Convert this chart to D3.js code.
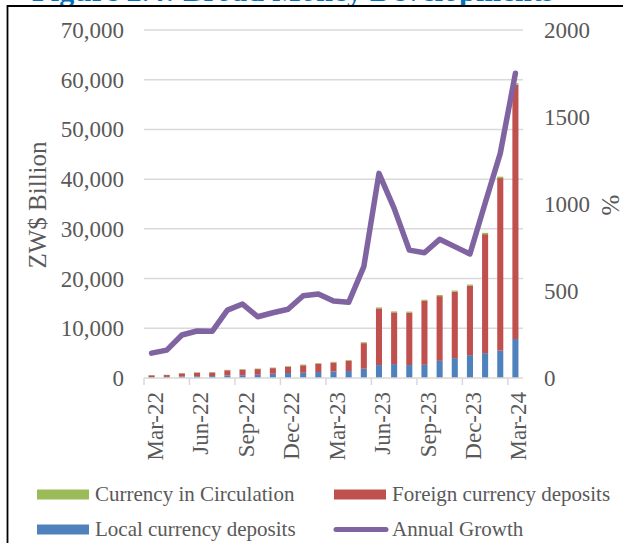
<!DOCTYPE html>
<html lang="en">
<head>
<meta charset="utf-8">
<script src="https://d3js.org/d3.v7.min.js"></script>
<style>
  body { margin: 0; background: #fff; }
  text { font-family: "Liberation Serif", "Times New Roman", serif; fill: #595959; }
</style>
</head>
<body>
<script>
var months = ["Mar-22","Apr-22","May-22","Jun-22","Jul-22","Aug-22","Sep-22","Oct-22","Nov-22","Dec-22",
  "Jan-23","Feb-23","Mar-23","Apr-23","May-23","Jun-23","Jul-23","Aug-23","Sep-23","Oct-23","Nov-23","Dec-23",
  "Jan-24","Feb-24","Mar-24"];
var localDeposits = [200,220,300,350,380,500,560,650,850,1000,1050,1200,1300,1400,1870,2600,2800,2600,2650,3450,4000,4600,5000,5500,7850];
var foreignDeposits = [340,370,630,720,730,1050,1130,1140,1130,1260,1510,1650,1790,2030,5140,11400,10400,10540,12880,13020,13360,13940,23930,34710,51130];
var currency = [60,60,70,80,90,100,110,110,120,140,140,150,160,170,190,200,200,210,220,230,240,260,270,290,320];
var growth = [143,160,247,270,268,390,425,352,375,395,473,483,442,435,640,1176,975,735,720,797,755,713,1004,1291,1751];
var leftTicks = [0,10000,20000,30000,40000,50000,60000,70000];
var rightTicks = [0,500,1000,1500,2000];
var labelMonths = ["Mar-22","Jun-22","Sep-22","Dec-22","Mar-23","Jun-23","Sep-23","Dec-23","Mar-24"];

var W = 623, H = 543;
var svg = d3.select("body").append("svg").attr("width", W).attr("height", H);

// title, cut off at the top edge as in the source
svg.append("text").attr("x", 32).attr("y", 0.5)
  .attr("font-size", 30).attr("font-weight", "bold")
  .attr("textLength", 522).attr("lengthAdjust", "spacing")
  .style("fill", "#0070c0")
  .text("Figure 2.4: Broad Money Developments");
svg.append("path").attr("d", "M7.5,543V6H623").attr("fill", "none")
  .attr("stroke", "#000").attr("stroke-width", 1.8);

var x = d3.scaleBand().domain(months).range([144, 523]).paddingInner(0.6).paddingOuter(0.3);
var y = d3.scaleLinear().domain([0, 70000]).range([378, 30]);
var y2 = d3.scaleLinear().domain([0, 2000]).range([378, 30]);

// gridlines
svg.append("g").selectAll("line").data(leftTicks.slice(1)).enter().append("line")
  .attr("x1", 144).attr("x2", 523)
  .attr("y1", d => y(d)).attr("y2", d => y(d))
  .attr("stroke", "#d9d9d9").attr("stroke-width", 1.5);

// left axis labels
svg.append("g").selectAll("text").data(leftTicks).enter().append("text")
  .attr("x", 124).attr("y", d => y(d)).attr("dy", "0.35em")
  .attr("text-anchor", "end").attr("font-size", 23)
  .text(d => d3.format(",")(d));

// right axis labels
svg.append("g").selectAll("text").data(rightTicks).enter().append("text")
  .attr("x", 544).attr("y", d => y2(d)).attr("dy", "0.35em")
  .attr("font-size", 23)
  .text(d => d);

// stacked bars
var rows = months.map(function(m, i) {
  return { month: m, local: localDeposits[i], foreign: foreignDeposits[i], currency: currency[i] };
});
var keys = ["local", "foreign", "currency"];
var colors = { local: "#4f81bd", foreign: "#c0504d", currency: "#9bbb59" };
var stack = d3.stack().keys(keys)(rows);

svg.append("g").selectAll("g").data(stack).enter().append("g")
  .attr("fill", d => colors[d.key])
  .selectAll("rect").data(d => d).enter().append("rect")
  .attr("x", d => x(d.data.month))
  .attr("width", x.bandwidth())
  .attr("y", d => y(d[1]))
  .attr("height", d => y(d[0]) - y(d[1]));

// x axis line and ticks
var step = x.step();
svg.append("line").attr("x1", 144).attr("x2", 523).attr("y1", 378).attr("y2", 378)
  .attr("stroke", "#d9d9d9").attr("stroke-width", 1.5);
svg.append("g").selectAll("line").data(d3.range(0, 25, 3)).enter().append("line")
  .attr("x1", d => 144 + d * step).attr("x2", d => 144 + d * step)
  .attr("y1", 378).attr("y2", 385)
  .attr("stroke", "#d9d9d9").attr("stroke-width", 1.5);

svg.append("g").selectAll("text").data(labelMonths).enter().append("text")
  .attr("transform", d => "translate(" + (x(d) + x.bandwidth() / 2 + 3) + ",392) rotate(-90)")
  .attr("dy", "0.35em").attr("text-anchor", "end").attr("font-size", 23)
  .text(d => d);

// growth line
var line = d3.line()
  .x((d, i) => x(months[i]) + x.bandwidth() / 2)
  .y(d => y2(d));
svg.append("path").datum(growth).attr("d", line)
  .attr("fill", "none").attr("stroke", "#8064a2").attr("stroke-width", 5.5)
  .attr("stroke-linejoin", "round").attr("stroke-linecap", "round");

// axis titles
svg.append("text").attr("transform", "translate(37,205) rotate(-90)")
  .attr("dy", "0.35em").attr("text-anchor", "middle").attr("font-size", 25)
  .text("ZW$ Billion");
svg.append("text").attr("transform", "translate(610,205) rotate(-90)")
  .attr("dy", "0.35em").attr("text-anchor", "middle").attr("font-size", 25)
  .text("%");

// legend
var legend = [
  { name: "Currency in Circulation", color: "#9bbb59", x: 37, y: 494.5, type: "rect" },
  { name: "Foreign currency deposits", color: "#c0504d", x: 334, y: 494.5, type: "rect" },
  { name: "Local currency deposits", color: "#4f81bd", x: 37, y: 529.5, type: "rect" },
  { name: "Annual Growth", color: "#8064a2", x: 334, y: 529.5, type: "line" }
];
var lg = svg.append("g").selectAll("g").data(legend).enter().append("g");
lg.filter(d => d.type === "rect").append("rect")
  .attr("x", d => d.x).attr("y", d => d.y - 5).attr("width", 52).attr("height", 10)
  .attr("fill", d => d.color);
lg.filter(d => d.type === "line").append("line")
  .attr("x1", d => d.x + 2).attr("x2", d => d.x + 52)
  .attr("y1", d => d.y).attr("y2", d => d.y)
  .attr("stroke", d => d.color).attr("stroke-width", 5).attr("stroke-linecap", "round");
lg.append("text")
  .attr("x", d => d.x + 58).attr("y", d => d.y).attr("dy", "0.33em")
  .attr("font-size", 21)
  .text(d => d.name);
</script>
</body>
</html>
